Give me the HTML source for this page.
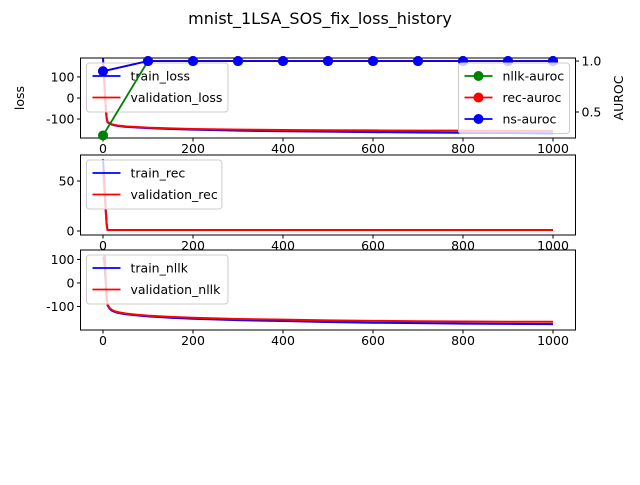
<!DOCTYPE html>
<html><head><meta charset="utf-8"><style>
body{margin:0;background:#fff}
svg text{font-family:"DejaVu Sans","Liberation Sans",sans-serif;fill:#000}
</style></head><body>
<svg id="chart" width="640" height="480" xmlns="http://www.w3.org/2000/svg">
<text x="320" y="24" font-size="16" text-anchor="middle">mnist_1LSA_SOS_fix_loss_history</text>
<g id="g"></g>
</svg>
<script>
const epochs=[0,2,4,6,8,10,15,20,30,50,75,100,150,200,300,400,500,600,700,800,900,1000];
const trainLoss=[190,120,40,-40,-95,-115,-122,-127,-132,-137,-140,-143,-147,-150,-155,-158,-160,-162,-164,-165,-166,-167];
const valLoss=[170,110,30,-45,-95,-113,-120,-125,-130,-135,-138,-141,-144,-147,-150,-152,-153,-154,-155,-155,-156,-156];
const trainRec=[72,58,40,22,8,1,1,1,1,1,1,1,1,1,1,1,1,1,1,1,1,1];
const valRec=[60,50,35,20,7,1,1,1,1,1,1,1,1,1,1,1,1,1,1,1,1,1];
const trainNllk=[100,110,60,0,-60,-95,-110,-118,-126,-133,-138,-142,-148,-152,-158,-162,-166,-169,-171,-173,-174,-175];
const valNllk=[100,105,120,20,-55,-92,-107,-115,-123,-130,-135,-139,-144,-148,-153,-156,-159,-161,-163,-164,-165,-165];
const aurocEpochs=[0,100,200,300,400,500,600,700,800,900,1000];
const nllkAuroc=[0.27,1,1,1,1,1,1,1,1,1,1];
const recAuroc=[0.9,1,1,1,1,1,1,1,1,1,1];
const nsAuroc=[0.9,1,1,1,1,1,1,1,1,1,1];
const xTicks=[0,200,400,600,800,1000];

const NS="http://www.w3.org/2000/svg";
const G=document.getElementById('g');
function mk(tag,attrs,parent,text){const e=document.createElementNS(NS,tag);for(const k in attrs)e.setAttribute(k,attrs[k]);if(text!==undefined)e.textContent=text;(parent||G).appendChild(e);return e;}
const L=80.5,R=575.5;
const xs=v=>L+(v+50)/1100*(R-L);
function yScale(top,bot,lo,hi){return v=>bot-(v-lo)/(hi-lo)*(bot-top);}
function legW(items){return Math.max(...items.map(i=>i.n.length))*6.1+50;}
function panel(name,top,bot,lo,hi,yTicks,series,legend,yLabel){
  const g=mk('g',{});
  
  
  const ys=yScale(top,bot,lo,hi);
  const defs=mk('clipPath',{id:'c'+name},g);mk('rect',{x:L,y:top,width:R-L,height:bot-top},defs);
  series.forEach(s=>{
    const p=mk('polyline',{points:s.v.map((v,i)=>xs(epochs[i])+','+ys(v)).join(' '),fill:'none',stroke:s.c,'stroke-width':2,'clip-path':'url(#c'+name+')'},g);
    
    
  });
  const fr=mk('rect',{x:L,y:top,width:R-L,height:bot-top,fill:'none',stroke:'#000','stroke-width':1},g);
  
  
  xTicks.forEach(t=>{mk('line',{x1:xs(t),x2:xs(t),y1:bot,y2:bot+3.5,stroke:'#000'},g);
    const tx=mk('text',{x:xs(t),y:bot+15,'font-size':12.5,'text-anchor':'middle'},g,t);
    
    });
  yTicks.forEach(t=>{mk('line',{x1:L-3.5,x2:L,y1:ys(t),y2:ys(t),stroke:'#000'},g);
    const tx=mk('text',{x:L-6,y:ys(t)+4.5,'font-size':12.5,'text-anchor':'end'},g,t);
    
    });
  if(yLabel){const t=mk('text',{transform:`translate(24,${(top+bot)/2}) rotate(-90)`,'font-size':12.5,'text-anchor':'middle'},g,yLabel);
    
    }
  drawLegend(g,L+6,top+5,legend,false);
  return ys;
}
function drawLegend(g,x,y,items,marker){
  const w=legW(items);
  const lg=mk('g',{},g);
  
  
  mk('rect',{x:x,y:y,width:w,height:items.length*21.5+6,fill:'#fff','fill-opacity':0.8,stroke:'#ccc',rx:3},lg);
  items.forEach((it,i)=>{const cy=y+13+i*21.5;
    const e=mk('g',{},lg);
    
    
    mk('line',{x1:x+6,x2:x+34,y1:cy,y2:cy,stroke:it.c,'stroke-width':1.8},e);
    if(marker)mk('circle',{cx:x+20,cy:cy,r:5,fill:it.c},e);
    mk('text',{x:x+44,y:cy+4.5,'font-size':12.5},e,it.n);});
}
// Panel 1
const ys1=panel('loss-panel',58,138,-190,190,[100,0,-100],[{v:trainLoss,c:'blue',n:'train-loss'},{v:valLoss,c:'red',n:'validation-loss'}],
 [{n:'train_loss',c:'blue'},{n:'validation_loss',c:'red'}],'loss');
// AUROC axis
const ya=yScale(58,138,0.245,1.03);
const ag=mk('g',{});


[[nllkAuroc,'green','nllk-auroc'],[recAuroc,'red','rec-auroc'],[nsAuroc,'blue','ns-auroc']].forEach(([arr,c,n])=>{
  const s=mk('g',{},ag);
  
  
  mk('polyline',{points:arr.map((v,i)=>xs(aurocEpochs[i])+','+ya(v)).join(' '),fill:'none',stroke:c,'stroke-width':1.8},s);
  arr.forEach((v,i)=>{const p=mk('circle',{cx:xs(aurocEpochs[i]),cy:ya(v),r:5,fill:c},s);
    
    });
});
[0.5,1.0].forEach(t=>{mk('line',{x1:R,x2:R+3.5,y1:ya(t),y2:ya(t),stroke:'#000'},ag);
  mk('text',{x:R+6,y:ya(t)+4.5,'font-size':12.5},ag,t.toFixed(1));});
const at=mk('text',{transform:`translate(623,98) rotate(-90)`,'font-size':12.5,'text-anchor':'middle'},ag,'AUROC');


const rItems=[{n:'nllk-auroc',c:'green'},{n:'rec-auroc',c:'red'},{n:'ns-auroc',c:'blue'}];
drawLegend(ag,R-6-legW(rItems),63,rItems,true);
// Panel 2
panel('rec-panel',155,235,-4,76,[50,0],[{v:trainRec,c:'blue',n:'train-rec'},{v:valRec,c:'red',n:'validation-rec'}],
 [{n:'train_rec',c:'blue'},{n:'validation_rec',c:'red'}]);
// Panel 3
panel('nllk-panel',250,330,-200,140,[100,0,-100],[{v:trainNllk,c:'blue',n:'train-nllk'},{v:valNllk,c:'red',n:'validation-nllk'}],
 [{n:'train_nllk',c:'blue'},{n:'validation_nllk',c:'red'}]);
</script>
</body></html>
